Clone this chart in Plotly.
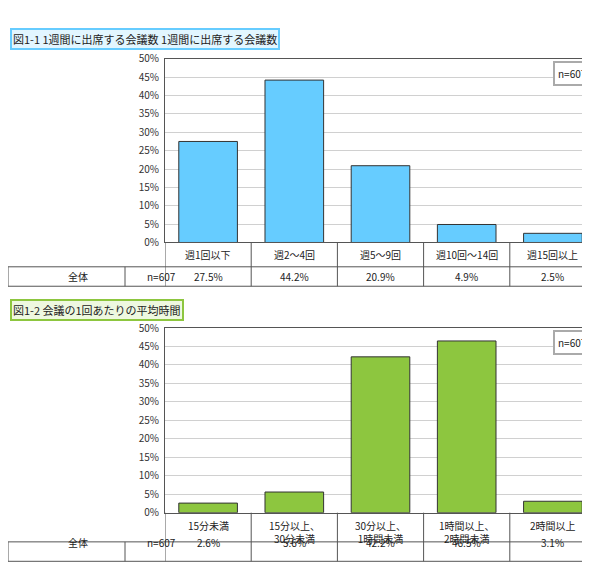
import plotly.graph_objects as go

# data
cats1 = ["週1回以下", "週2～4回", "週5～9回", "週10回～14回", "週15回以上"]
vals1 = [27.5, 44.2, 20.9, 4.9, 2.5]
cats2 = ["15分未満", "15分以上、<br>30分未満", "30分以上、<br>1時間未満", "1時間以上、<br>2時間未満", "2時間以上"]
vals2 = [2.6, 5.6, 42.2, 46.5, 3.1]
title1 = "図1-1 1週間に出席する会議数 1週間に出席する会議数"
title2 = "図1-2 会議の1回あたりの平均時間"
row_label = "全体"
n_label = "n=607"
yticks = list(range(0, 51, 5))

W, H = 590, 571
FONT = "Noto Sans CJK JP"
def py(p):
    return 1 - p / H
def px_(p):
    return p / W

fig = go.Figure()
fig.add_trace(go.Bar(x=list(range(5)), y=vals1, marker=dict(color="#66CCFF", line=dict(color="#333333", width=1)),
                     xaxis="x", yaxis="y", width=0.68, hoverinfo="skip"))
fig.add_trace(go.Bar(x=list(range(5)), y=vals2, marker=dict(color="#8DC63F", line=dict(color="#333333", width=1)),
                     xaxis="x2", yaxis="y2", width=0.68, hoverinfo="skip"))

ax = dict(range=[-0.5, 4.5], showticklabels=False, showgrid=False, zeroline=False,
          showline=True, linecolor="#555555", mirror=True, domain=[px_(157), px_(588)])
ay = dict(range=[0, 50], tickvals=yticks, ticktext=[f"{v}%" for v in yticks], showgrid=True,
          gridcolor="#D0D0D0", zeroline=False, showline=True, linecolor="#555555", mirror=True,
          tickfont=dict(size=10, color="#333333", family=FONT), ticks="", ticklabelstandoff=3)
fig.update_layout(
    width=W, height=H, margin=dict(l=0, r=0, t=0, b=0), showlegend=False,
    plot_bgcolor="white", paper_bgcolor="white",
    xaxis=dict(ax, anchor="y"), yaxis=dict(ay, domain=[py(232), py(43)], anchor="x"),
    xaxis2=dict(ax, anchor="y2"), yaxis2=dict(ay, domain=[py(510), py(320)], anchor="x2"),
)

shapes, anns = [], []
def line(x0, y0, x1, y1, xref="paper"):
    shapes.append(dict(type="line", xref=xref, yref="paper", x0=x0, x1=x1, y0=py(y0), y1=py(y1),
                       line=dict(color="#555555", width=1)))

def block(xa, cats, vals, top, lab_bot, tab_bot, title, tcol, tbg, ttop):
    xr = xa
    # label row
    for b in [-0.5, 0.5, 1.5, 2.5, 3.5, 4.5]:
        line(b, top, b, tab_bot, xref=xr)
    line(0, lab_bot, px_(588), lab_bot)
    line(0, tab_bot, px_(588), tab_bot)
    line(0, lab_bot, 0, tab_bot)
    line(px_(117), lab_bot, px_(117), tab_bot)
    for i, (c, v) in enumerate(zip(cats, vals)):
        anns.append(dict(x=i, y=py(top + 3), xref=xr, yref="paper", text=c, showarrow=False,
                         yanchor="top", font=dict(size=10, color="#222222", family=FONT)))
        anns.append(dict(x=i, y=py((lab_bot + tab_bot) / 2), xref=xr, yref="paper", text=f"{v}%",
                         showarrow=False, font=dict(size=10, color="#222222", family=FONT)))
    anns.append(dict(x=px_(58), y=py((lab_bot + tab_bot) / 2), xref="paper", yref="paper", text=row_label,
                     showarrow=False, font=dict(size=10, color="#222222", family=FONT)))
    anns.append(dict(x=px_(137), y=py((lab_bot + tab_bot) / 2), xref="paper", yref="paper", text=n_label,
                     showarrow=False, font=dict(size=10, color="#222222", family=FONT)))
    anns.append(dict(x=px_(2), y=py(ttop), xref="paper", yref="paper", text=title, showarrow=False,
                     xanchor="left", yanchor="top", bgcolor=tbg, bordercolor=tcol, borderwidth=2, borderpad=1,
                     font=dict(size=11, color="#222222", family=FONT)))

block("x", cats1, vals1, 232, 257, 277, title1, "#66CCFF", "#E2F6FF", 11)
block("x2", cats2, vals2, 510, 540, 560, title2, "#8DC63F", "#EEF8E0", 290)
for yref in ["y", "y2"]:
    anns.append(dict(x=4.45, y=46, xref=yref.replace("y", "x"), yref=yref, text=n_label, showarrow=False,
                     xanchor="right", bgcolor="white", bordercolor="#AAAAAA", borderwidth=2, borderpad=3,
                     font=dict(size=10, color="#222222", family=FONT)))

fig.update_layout(shapes=shapes, annotations=anns)
fig.write_html("out.html")
